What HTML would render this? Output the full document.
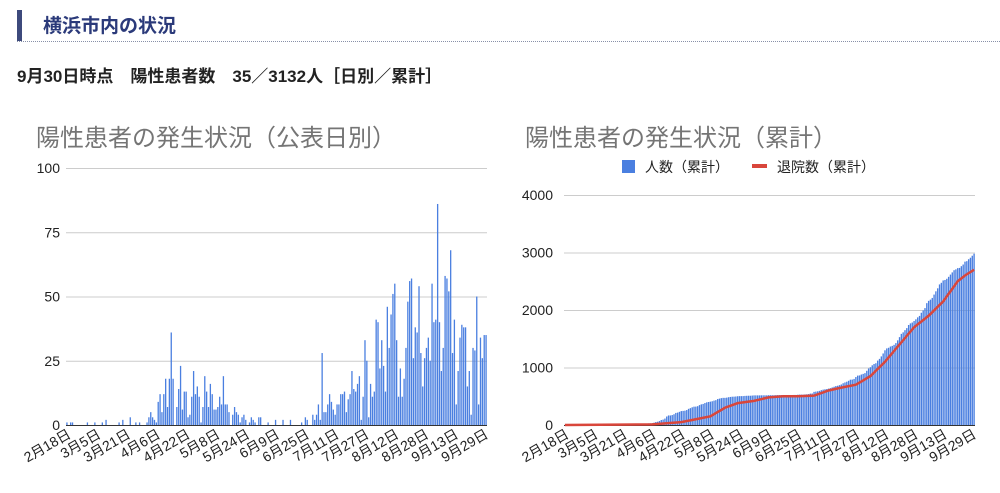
<!DOCTYPE html>
<html><head><meta charset="utf-8">
<style>
body{margin:0;background:#fff;width:1000px;height:488px;overflow:hidden;font-family:"Liberation Sans","Noto Sans CJK JP",sans-serif;}
</style></head>
<body>
<svg width="1000" height="488" xmlns="http://www.w3.org/2000/svg" font-family="Liberation Sans, Noto Sans CJK JP, sans-serif">
<rect x="17" y="10" width="5" height="31" fill="#3d4a7c"/>
<text x="43" y="32" font-size="19" font-weight="bold" fill="#2b3a7a">横浜市内の状況</text>
<line x1="17" y1="41.5" x2="1000" y2="41.5" stroke="#8890a8" stroke-dasharray="1,1"/>
<text x="17" y="82" font-size="17" font-weight="bold" fill="#222">9月30日時点　陽性患者数　35／3132人［日別／累計］</text>
<text x="36" y="146" font-size="24" fill="#757575">陽性患者の発生状況（公表日別）</text>
<text x="525" y="146" font-size="24" fill="#757575">陽性患者の発生状況（累計）</text>
<rect x="622" y="160" width="13" height="13" fill="#4a7fe0"/>
<text x="645" y="172" font-size="14" fill="#222">人数（累計）</text>
<rect x="752" y="164" width="15" height="4" fill="#d9463b"/>
<text x="777" y="172" font-size="14" fill="#222">退院数（累計）</text>
<g id="left"></g>
<g id="right"></g>
</svg>
<script>
const tickLabels=["2月18日","3月5日","3月21日","4月6日","4月22日","5月8日","5月24日","6月9日","6月25日","7月11日","7月27日","8月12日","8月28日","9月13日","9月29日"];
const leftTicks=[0,25,50,75,100];
const rightTicks=[0,1000,2000,3000,4000];
const febMar=[1,0,1,1,0,0,0,0,0,0,0,1,0,0,0,1,0,0,0,1,0,2,0,0,0,0,0,0,1,0,2,0,0,0,3,0,0,1,0,1,0,0,0];
const apr=[1,3,5,3,2,1,9,12,5,12,18,7,18,36,18,0,7,14,23,6,13,13,3,4,11,21,12,15,11,1];
const may=[7,19,13,7,16,12,6,6,7,11,8,19,8,8,5,0,4,7,5,4,1,3,4,2,0,1,3,2,1,0,3];
const jun=[3,0,0,0,1,0,0,0,2,0,0,0,2,0,0,0,2,0,0,0,0,0,1,0,3,2,0,0,4,2];
const jul=[4,8,2,28,5,5,8,12,9,6,4,8,8,12,12,13,5,10,12,21,14,13,16,19,2,11,33,25,3,16,11];
const aug=[13,41,40,22,33,23,13,46,30,43,51,55,33,11,22,11,18,30,48,56,57,26,38,36,54,28,15,26,30,34,25];
const sep=[55,40,41,86,40,21,30,58,57,52,68,28,41,8,21,34,39,38,38,15,21,4,30,29,50,8,34,26,35,35];
const extra=[];
const daily=[].concat(febMar,apr,may,jun,jul,aug,sep);
const dischargeDay=[0,48,64,72,80,88,95,104,112,120,128,137,145,152,160,168,176,184,192,200,208,216,220,225];
const dischargeVal=[0,10,50,100,150,300,380,420,480,500,500,510,600,650,700,850,1100,1400,1700,1900,2150,2500,2600,2700];
const NS="http://www.w3.org/2000/svg";
function mk(p,tag,at){const e=document.createElementNS(NS,tag);for(const k in at)e.setAttribute(k,at[k]);p.appendChild(e);return e;}
const N=daily.length;
function drawAxes(g,x0,x1,yTop,yBot,ticks,max,labelX){
  const ys=v=>yBot-(v/max)*(yBot-yTop);
  ticks.forEach(t=>{
    const l=mk(g,'line',{x1:x0,x2:x1,y1:ys(t)+.5,y2:ys(t)+.5,stroke:t===0?'#333':'#ccc'});
    
    
    const tx=mk(g,'text',{x:labelX,y:ys(t)+5,'font-size':14,'text-anchor':'end',fill:'#222'});
    tx.textContent=t;
    
    
  });
  const xs=i=>x0+(i+0.5)*(x1-x0)/N;
  tickLabels.forEach((s,k)=>{
    const x=xs(k*16)+5,y=yBot+12;
    const tx=mk(g,'text',{x:x,y:y,'font-size':14,'text-anchor':'end',fill:'#222',transform:`rotate(-30 ${x} ${y})`});
    tx.textContent=s;
    
    
  });
  return {xs,ys};
}
(function(){
  const g=document.getElementById('left');
  const x0=66,x1=487,yTop=168,yBot=425;
  const {xs,ys}=drawAxes(g,x0,x1,yTop,yBot,leftTicks,100,60);
  const w=(x1-x0)/N*0.7;
  daily.forEach((v,i)=>{
    const r=mk(g,'rect',{x:xs(i)-w/2,y:ys(v),width:w,height:yBot-ys(v),fill:'#4a7fe0'});
    
    
  });
})();
(function(){
  const g=document.getElementById('right');
  const x0=564,x1=975,yTop=195,yBot=425;
  const {xs,ys}=drawAxes(g,x0,x1,yTop,yBot,rightTicks,4000,553);
  const w=(x1-x0)/N*0.75;
  let c=0;
  daily.forEach((v,i)=>{
    c+=v;
    const r=mk(g,'rect',{x:xs(i)-w/2,y:ys(c),width:w,height:yBot-ys(c),fill:'#4a7fe0'});
    
    
  });
  const pts=dischargeDay.map((d,k)=>xs(d)+','+ys(dischargeVal[k])).join(' ');
  const pl=mk(g,'polyline',{points:pts,fill:'none',stroke:'#d9463b','stroke-width':2.5});
  
  
})();
</script>
</body></html>
